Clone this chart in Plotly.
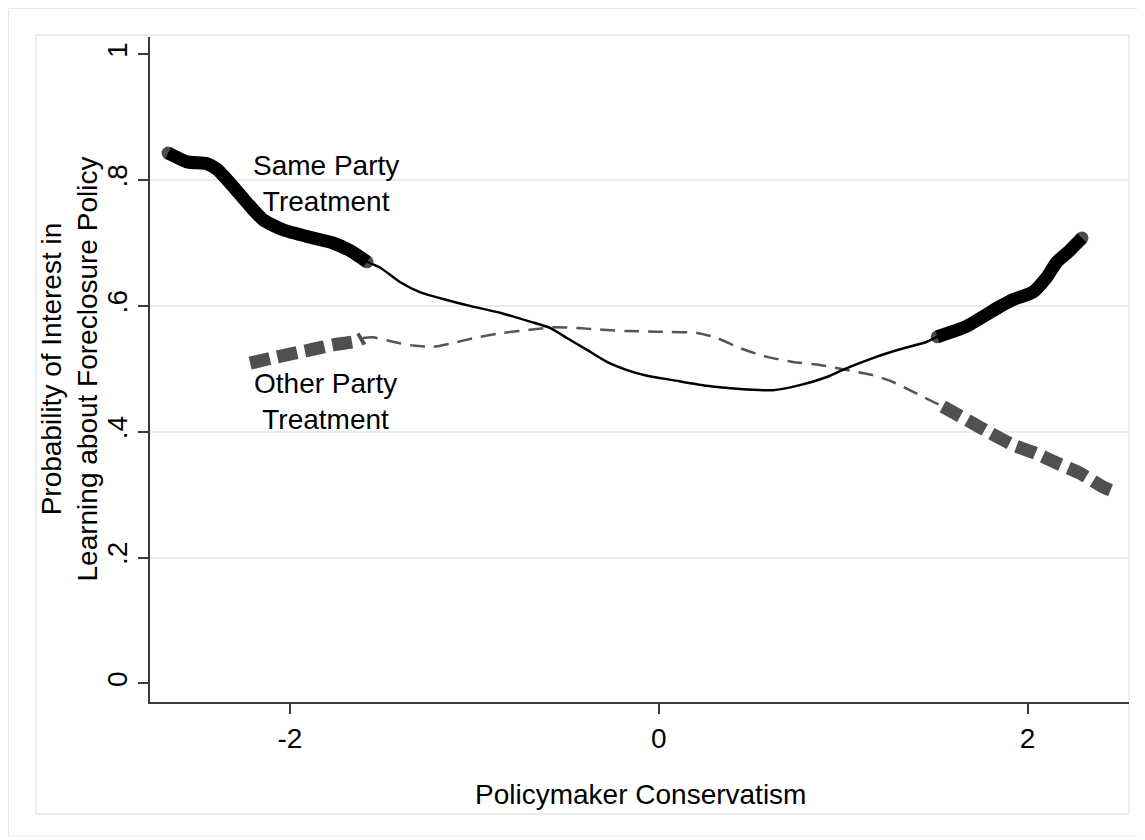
import numpy as np
import plotly.graph_objects as go

# ---- data ----
same_x = [-2.661, -2.558, -2.450, -2.395, -2.309, -2.233, -2.146, -2.038, -1.875, -1.767,
          -1.675, -1.582, -1.512, -1.404, -1.296, -1.170, -1.024, -0.861, -0.698, -0.590,
          -0.498, -0.389, -0.281, -0.172, -0.064, 0.077, 0.261, 0.440, 0.618, 0.765,
          0.912, 1.020, 1.161, 1.308, 1.454, 1.510, 1.671, 1.850, 1.921, 2.029,
          2.105, 2.159, 2.214, 2.295]
same_y = [0.843, 0.829, 0.826, 0.817, 0.790, 0.764, 0.737, 0.721, 0.708, 0.700,
          0.688, 0.670, 0.661, 0.638, 0.622, 0.611, 0.600, 0.589, 0.575, 0.565,
          0.549, 0.530, 0.511, 0.498, 0.489, 0.482, 0.473, 0.468, 0.466, 0.474,
          0.487, 0.501, 0.517, 0.531, 0.543, 0.551, 0.568, 0.599, 0.610, 0.622,
          0.646, 0.670, 0.684, 0.708]
same_sig_low, same_sig_high = -1.582, 1.510

other_x = [-2.216, -2.070, -1.891, -1.767, -1.637, -1.605, -1.550, -1.442, -1.333, -1.225,
           -1.117, -0.986, -0.845, -0.699, -0.574, -0.444, -0.303, -0.172, -0.010, 0.207,
           0.315, 0.440, 0.587, 0.727, 0.874, 1.020, 1.161, 1.270, 1.416, 1.540,
           1.688, 1.797, 1.921, 2.041, 2.160, 2.285, 2.410, 2.450]
other_y = [0.509, 0.519, 0.530, 0.538, 0.544, 0.549, 0.550, 0.543, 0.537, 0.535,
           0.541, 0.550, 0.557, 0.562, 0.566, 0.565, 0.562, 0.560, 0.559, 0.557,
           0.549, 0.533, 0.519, 0.511, 0.506, 0.498, 0.490, 0.479, 0.458, 0.440,
           0.416, 0.398, 0.379, 0.366, 0.350, 0.334, 0.312, 0.307]
other_sig_low, other_sig_high = -1.605, 1.540

x_ticks = [-2, 0, 2]
x_tick_labels = ["-2", "0", "2"]
y_ticks = [0, 0.2, 0.4, 0.6, 0.8, 1]
y_tick_labels = ["0", ".2", ".4", ".6", ".8", "1"]
y_grid = [0.2, 0.4, 0.6, 0.8]

FONT = "Liberation Sans, Arial, Helvetica, sans-serif"
FS = 28


def split(xs, ys, lo, hi):
    xs = np.asarray(xs)
    ys = np.asarray(ys)
    e = 1e-9
    left = xs <= lo + e
    mid = (xs >= lo - e) & (xs <= hi + e)
    right = xs >= hi - e
    return (xs[left], ys[left]), (xs[mid], ys[mid]), (xs[right], ys[right])


fig = go.Figure()

# Other party (gray dashed)
(olx, oly), (omx, omy), (orx, ory) = split(other_x, other_y, other_sig_low, other_sig_high)
fig.add_trace(go.Scatter(x=omx, y=omy, mode="lines",
                         line=dict(color="#555555", width=2.5, dash="15px,9px", shape="spline", smoothing=0.6),
                         hoverinfo="skip", showlegend=False))
for xx, yy in [(olx, oly), (orx, ory)]:
    fig.add_trace(go.Scatter(x=xx, y=yy, mode="lines",
                             line=dict(color="#505050", width=13, dash="20px,8px", shape="spline", smoothing=0.6),
                             hoverinfo="skip", showlegend=False))

# Same party (black solid)
(slx, sly), (smx, smy), (srx, sry) = split(same_x, same_y, same_sig_low, same_sig_high)
fig.add_trace(go.Scatter(x=smx, y=smy, mode="lines",
                         line=dict(color="black", width=2.5, shape="spline", smoothing=0.6),
                         hoverinfo="skip", showlegend=False))
for xx, yy in [(slx, sly), (srx, sry)]:
    sizes = [0] * len(xx)
    sizes[0] = 13
    sizes[-1] = 13
    fig.add_trace(go.Scatter(x=xx, y=yy, mode="lines+markers",
                             line=dict(color="black", width=13, shape="spline", smoothing=0.6),
                             marker=dict(color="black", size=sizes, line=dict(width=0)),
                             hoverinfo="skip", showlegend=False))

# page is shown with an 8px body margin: figure coords = page coords - 8
W, H = 1137, 832
L, R, T, B = 142, 16, 29, 138
pw, ph = W - L - R, H - T - B


def px_x(p):  # page pixel -> paper x
    return (p - 8 - L) / pw


def px_y(p):  # page pixel -> paper y
    return (H - B - (p - 8)) / ph


shapes = [
    dict(type="rect", xref="paper", yref="paper", x0=px_x(8.5), x1=px_x(1139), y0=px_y(836), y1=px_y(8.5),
         line=dict(color="#e6e6e6", width=1), fillcolor="rgba(0,0,0,0)", layer="below"),
    dict(type="rect", xref="paper", yref="paper", x0=px_x(36), x1=px_x(1129), y0=px_y(814), y1=px_y(35),
         line=dict(color="#e9e9e9", width=1.5), fillcolor="rgba(0,0,0,0)", layer="below"),
]

annotations = []
for txt, yv in [("Same Party<br>Treatment", 0.795), ("Other Party<br>Treatment", 0.448)]:
    annotations.append(dict(x=-1.805, y=yv, xref="x", yref="y", text=txt, showarrow=False,
                            xanchor="center", yanchor="middle",
                            font=dict(family=FONT, size=FS, color="black")))
annotations.append(dict(x=px_x(69), y=0.5, xref="paper", yref="paper",
                        text="Probability of Interest in<br>Learning about Foreclosure Policy",
                        showarrow=False, textangle=-90, xanchor="center", yanchor="middle",
                        font=dict(family=FONT, size=FS, color="black")))
annotations.append(dict(x=px_x(640), y=px_y(794), xref="paper", yref="paper",
                        text="Policymaker Conservatism", showarrow=False,
                        xanchor="center", yanchor="middle",
                        font=dict(family=FONT, size=FS, color="black")))

fig.update_layout(
    width=W, height=H,
    margin=dict(l=L, r=R, t=T, b=B, pad=0),
    paper_bgcolor="white", plot_bgcolor="white",
    shapes=shapes, annotations=annotations,
    font=dict(family=FONT, size=FS, color="black"),
    xaxis=dict(range=[-2.759, 2.550], showline=True, linecolor="#3a3a3a", linewidth=2,
               ticks="outside", ticklen=10, tickwidth=1.5, tickcolor="#3a3a3a",
               tickvals=x_ticks, ticktext=x_tick_labels, showgrid=False, zeroline=False,
               tickfont=dict(family=FONT, size=FS, color="black")),
    yaxis=dict(range=[-0.0297, 1.0275], showline=True, linecolor="#3a3a3a", linewidth=2,
               ticks="outside", ticklen=10, tickwidth=1.5, tickcolor="#3a3a3a",
               tickvals=y_ticks, ticktext=y_tick_labels, tickangle=-90,
               showgrid=False, zeroline=False,
               minor=dict(tickvals=y_grid, showgrid=True, gridcolor="#eaeaea", gridwidth=1.5, ticks=""),
               tickfont=dict(family=FONT, size=FS, color="black")),
)

fig.write_html("out.html")
